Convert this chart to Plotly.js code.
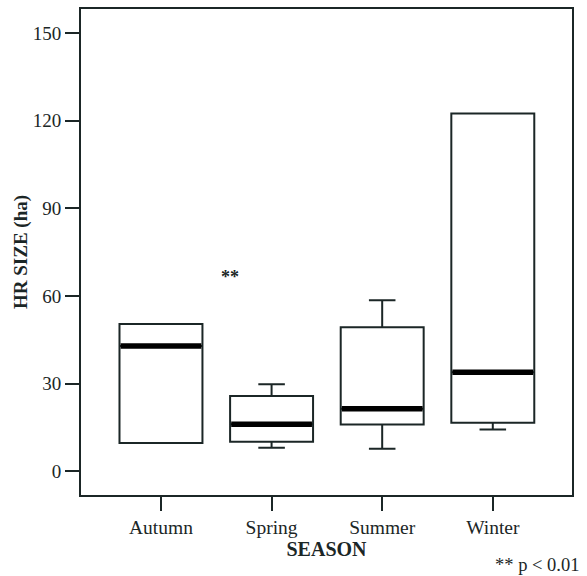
<!DOCTYPE html>
<html>
<head>
<meta charset="utf-8">
<script src="https://cdn.plot.ly/plotly-3.0.1.min.js"></script>
<style>html,body{margin:0;padding:0;background:#fff;}#chart{width:587px;height:576px;}</style>
</head>
<body>
<div id="chart"></div>
<script>
// Data
const seasons = ["Autumn", "Spring", "Summer", "Winter"];
const q1 = [9.7, 10.1, 16.0, 16.6];
const medians = [42.9, 16.1, 21.4, 33.9];
const q3 = [50.4, 25.8, 49.3, 122.4];
const lowerWhisker = [9.7, 8.1, 7.7, 14.3];
const upperWhisker = [50.4, 29.8, 58.5, 122.4];
const yTicks = [0, 30, 60, 90, 120, 150];

const ink = "#1b2626";
const font = "Liberation Serif, Times New Roman, serif";
const boxWidth = 0.75;
const xs = seasons.map((_, i) => i);

const boxTrace = {
  type: "box",
  x: xs,
  q1: q1,
  median: medians,
  q3: q3,
  lowerfence: lowerWhisker,
  upperfence: upperWhisker,
  width: boxWidth,
  whiskerwidth: 0.32,
  fillcolor: "#ffffff",
  line: {color: ink, width: 2},
  boxpoints: false,
  hoverinfo: "skip",
  showlegend: false
};

const mx = [], my = [];
medians.forEach((m, i) => {
  mx.push(i - boxWidth / 2 + 0.01, i + boxWidth / 2 - 0.01, null);
  my.push(m, m, null);
});
const medianTrace = {
  type: "scatter", mode: "lines", x: mx, y: my,
  line: {color: "#000", width: 5.5}, hoverinfo: "skip", showlegend: false
};

const layout = {
  width: 587, height: 576,
  margin: {l: 81, r: 15, t: 9, b: 81},
  paper_bgcolor: "#fff", plot_bgcolor: "#fff",
  font: {family: font, color: ink, size: 19},
  showlegend: false,
  xaxis: {
    range: [-0.723, 3.716],
    tickmode: "array", tickvals: xs, ticktext: seasons,
    showgrid: false, zeroline: false,
    showline: true, mirror: true, linecolor: ink, linewidth: 2,
    ticks: "outside", ticklen: 14, tickwidth: 2, tickcolor: ink,
    tickfont: {family: font, size: 19.5, color: ink},
    title: {text: "<b>SEASON</b>", font: {family: font, size: 20, color: ink}, standoff: 0}
  },
  yaxis: {
    range: [-8.1, 158.2],
    tickmode: "array", tickvals: yTicks,
    showgrid: false, zeroline: false,
    showline: true, mirror: true, linecolor: ink, linewidth: 2,
    ticks: "outside", ticklen: 14, tickwidth: 2, tickcolor: ink,
    tickfont: {family: font, size: 19, color: ink},
    title: {text: "<b>HR SIZE (ha)</b>", font: {family: font, size: 19, color: ink}, standoff: 0}
  },
  annotations: [
    {text: "<b>**</b>", x: 0.62, y: 66.5, xref: "x", yref: "y", showarrow: false,
     font: {family: font, size: 18, color: ink}},
    {text: "** p &lt; 0.01", x: 1.018, y: -0.144, xref: "paper", yref: "paper",
     xanchor: "right", yanchor: "middle", showarrow: false,
     font: {family: font, size: 18.5, color: ink}}
  ]
};

Plotly.newPlot("chart", [boxTrace, medianTrace], layout, {staticPlot: true, displayModeBar: false});
</script>
</body>
</html>
